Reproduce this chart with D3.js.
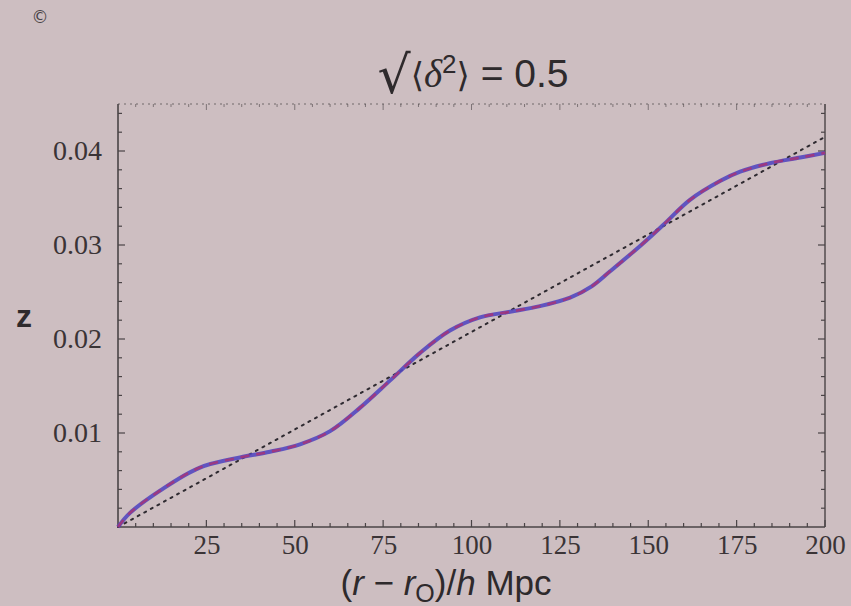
<!DOCTYPE html>
<html><head><meta charset="utf-8">
<script src="https://cdn.jsdelivr.net/npm/d3@7"></script>
<style>
html,body{margin:0;padding:0;background:#cdbec1;}
svg{display:block;}
</style></head>
<body>
<svg id="chart" width="851" height="606"></svg>
<script>
// ---- data ----
const rValues = [0, 3.4, 12, 23, 34.5, 43, 51.5, 60, 68.5, 77, 85.4, 93.9, 102.4, 110.9, 119.4, 127.9, 134, 139.2, 147.7, 154.7, 161.8, 170.3, 176, 184.4, 193, 200];
const zValues = [0, 0.0015, 0.0039, 0.0063, 0.0074, 0.0080, 0.0088, 0.0102, 0.0127, 0.0156, 0.0185, 0.0209, 0.0223, 0.0229, 0.0235, 0.0244, 0.0256, 0.0272, 0.0299, 0.0323, 0.0348, 0.0368, 0.0378, 0.0387, 0.0393, 0.0398];
const linearR = [0, 200];
const linearZ = [0, 0.0415];
const xTickValues = [25, 50, 75, 100, 125, 150, 175, 200];
const yTickValues = [0.01, 0.02, 0.03, 0.04];
const xDomain = [0, 200];
const yDomain = [0, 0.045];

const svg = d3.select("#chart");
const W = 851, H = 606;
const pLeft = 118, pRight = 825, pTop = 104, pBottom = 527;

svg.append("rect").attr("width", W).attr("height", H).attr("fill", "#cdbec1");

const x = d3.scaleLinear().domain(xDomain).range([pLeft, pRight]);
const y = d3.scaleLinear().domain(yDomain).range([pBottom, pTop]);

const frameColor = "#4a4446";

const xMinor = d3.range(5, 200.01, 5);
const yMinor = d3.range(0.002, 0.0449, 0.002);

const g = svg.append("g");
xMinor.forEach(v => {
  const major = xTickValues.includes(Math.round(v));
  g.append("line").attr("x1", x(v)).attr("x2", x(v)).attr("y1", pBottom).attr("y2", pBottom - (major ? 7 : 4))
    .attr("stroke", frameColor).attr("stroke-width", 1.2);
  g.append("line").attr("x1", x(v)).attr("x2", x(v)).attr("y1", pTop).attr("y2", pTop + (major ? 6 : 3))
    .attr("stroke", frameColor).attr("stroke-width", 1).attr("opacity", 0.6);
});
yMinor.forEach(v => {
  const major = yTickValues.some(t => Math.abs(t - v) < 1e-6);
  g.append("line").attr("x1", pLeft).attr("x2", pLeft + (major ? 7 : 4)).attr("y1", y(v)).attr("y2", y(v))
    .attr("stroke", frameColor).attr("stroke-width", 1.2);
  g.append("line").attr("x1", pRight).attr("x2", pRight - (major ? 7 : 4)).attr("y1", y(v)).attr("y2", y(v))
    .attr("stroke", frameColor).attr("stroke-width", 1.2);
});

// frame
svg.append("line").attr("x1", pLeft).attr("x2", pRight).attr("y1", pBottom).attr("y2", pBottom).attr("stroke", frameColor).attr("stroke-width", 1.6);
svg.append("line").attr("x1", pLeft).attr("x2", pLeft).attr("y1", pTop).attr("y2", pBottom).attr("stroke", frameColor).attr("stroke-width", 1.6);
svg.append("line").attr("x1", pRight).attr("x2", pRight).attr("y1", pTop).attr("y2", pBottom).attr("stroke", frameColor).attr("stroke-width", 1.4);
svg.append("line").attr("x1", pLeft).attr("x2", pRight).attr("y1", pTop).attr("y2", pTop).attr("stroke", frameColor)
  .attr("stroke-width", 1.2).attr("stroke-dasharray", "2,4").attr("opacity", 0.7);

// tick labels
const xAxis = d3.axisBottom(x).tickValues(xTickValues).tickSize(0).tickPadding(8).tickFormat(d3.format("d"));
const xa = svg.append("g").attr("transform", `translate(0,${pBottom})`).call(xAxis);
xa.select(".domain").remove();
xa.selectAll("text").attr("font-family", "Liberation Serif, serif").attr("font-size", 27).attr("fill", "#3a3436");

const yAxis = d3.axisLeft(y).tickValues(yTickValues).tickSize(0).tickPadding(16).tickFormat(d3.format(".2f"));
const ya = svg.append("g").attr("transform", `translate(${pLeft},0)`).call(yAxis);
ya.select(".domain").remove();
ya.selectAll("text").attr("font-family", "Liberation Serif, serif").attr("font-size", 28).attr("fill", "#3a3436");

// lines
const pts = rValues.map((r, i) => [r, zValues[i]]);
const lineGen = d3.line().x(d => x(d[0])).y(d => y(d[1])).curve(d3.curveCatmullRom.alpha(0.5));

svg.append("path").datum(linearR.map((r, i) => [r, linearZ[i]]))
  .attr("d", d3.line().x(d => x(d[0])).y(d => y(d[1])))
  .attr("fill", "none").attr("stroke", "#2e2a30").attr("stroke-width", 2).attr("stroke-dasharray", "2,5.5").attr("stroke-linecap", "round");

svg.append("path").datum(pts).attr("d", lineGen)
  .attr("fill", "none").attr("stroke", "#5448c0").attr("stroke-width", 4).attr("opacity", 0.9);
svg.append("path").datum(pts).attr("d", lineGen)
  .attr("fill", "none").attr("stroke", "#b0306e").attr("stroke-width", 2.6).attr("stroke-dasharray", "9,7").attr("opacity", 0.75);

// title
const title = svg.append("text").attr("x", 473).attr("y", 87).attr("text-anchor", "middle")
  .attr("font-family", "Liberation Sans, Arial, sans-serif").attr("font-size", 39).attr("fill", "#2e2a2c");
title.append("tspan").attr("font-family", "DejaVu Sans, sans-serif").attr("font-size", 52).attr("dy", 6).text("√");
title.append("tspan").attr("font-family", "DejaVu Serif, serif").attr("font-size", 34).attr("dy", -6).text("⟨");
title.append("tspan").attr("font-style", "italic").attr("font-family", "Liberation Serif, serif").text("δ");
title.append("tspan").attr("dy", -14).attr("font-size", 26).text("2");
title.append("tspan").attr("dy", 14).attr("font-family", "DejaVu Serif, serif").attr("font-size", 34).text("⟩");
title.append("tspan").text(" = 0.5");

// y label
svg.append("text").attr("x", 24).attr("y", 327).attr("text-anchor", "middle")
  .attr("font-family", "Liberation Sans, Arial, sans-serif").attr("font-size", 32).attr("font-weight", "bold").attr("fill", "#2e2a2c").text("z");

// x label
const xl = svg.append("text").attr("x", 446).attr("y", 595).attr("text-anchor", "middle")
  .attr("font-family", "Liberation Sans, Arial, sans-serif").attr("font-size", 35).attr("fill", "#2e2a2c");
xl.append("tspan").text("(");
xl.append("tspan").attr("font-style", "italic").text("r");
xl.append("tspan").text(" − ");
xl.append("tspan").attr("font-style", "italic").text("r");
xl.append("tspan").attr("dy", 7).attr("font-size", 25).text("O");
xl.append("tspan").attr("dy", -7).text(")/");
xl.append("tspan").attr("font-style", "italic").text("h");
xl.append("tspan").text(" Mpc");

// small mark top-left
svg.append("text").attr("x", 40).attr("y", 23).attr("text-anchor", "middle")
  .attr("font-family", "DejaVu Sans, sans-serif").attr("font-size", 17).attr("fill", "#4a4446").text("©");
</script>
</body></html>
